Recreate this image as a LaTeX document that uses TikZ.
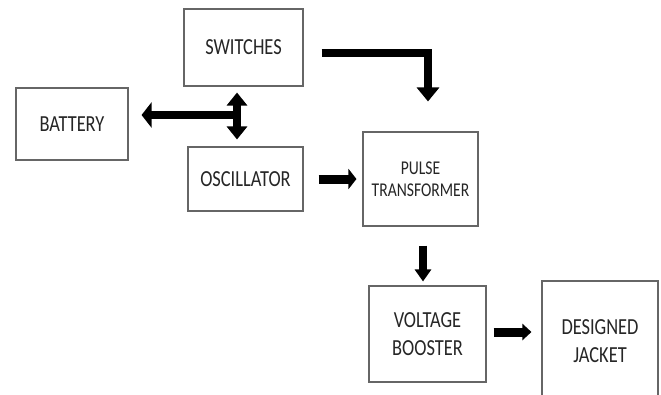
\documentclass[tikz,border=0pt]{standalone}
\usepackage{fontspec}
\setmainfont{Carlito}[FakeStretch=0.8]
\usetikzlibrary{arrows.meta}
\tikzset{
  blk/.style={draw=black!60, line width=1.1pt, inner sep=0pt, align=center, text=black!85},
  fat/.style={line width=8pt, -{Triangle[width=22pt,length=14pt]}},
  fatb/.style={line width=8pt, {Triangle[width=20pt,length=13pt]}-{Triangle[width=20pt,length=13pt]}},
  big/.style={font=\fontsize{23}{28}\selectfont},
  small/.style={font=\fontsize{19.5}{22}\selectfont}
}
\begin{document}
\begin{tikzpicture}[x=1pt,y=-1pt]
\useasboundingbox (0,0) rectangle (661,394);
\clip (0,0) rectangle (661,394);
\fill[white] (0,0) rectangle (661,394);
\node[blk,big,minimum width=119pt,minimum height=77pt] (switches) at (243.5,47.5) {SWITCHES};
\node[blk,big,minimum width=112pt,minimum height=72pt] (battery) at (72,124) {BATTERY};
\node[blk,big,minimum width=115pt,minimum height=64pt] (osc) at (245.5,179) {OSCILLATOR};
\node[blk,small,minimum width=115pt,minimum height=94pt] (pulse) at (420.5,179) {PULSE\\TRANSFORMER};
\node[blk,big,minimum width=117pt,minimum height=96pt] (booster) at (427.5,334) {VOLTAGE\\BOOSTER};
\node[blk,big,minimum width=116pt,minimum height=120pt] (jacket) at (600,341) {DESIGNED\\JACKET};
\coordinate (j) at (237,115);
% switches -> pulse
\draw[fat] (switches.east) ++(18,5.5) -| ([xshift=7.5pt]pulse.north) [shorten >=30pt];
% battery/switches/oscillator
\draw[fatb, shorten <=6pt, shorten >=7pt] (j |- switches.south) -- (j |- osc.north);
\draw[fat, -{Triangle[width=25pt,length=10pt]}, shorten >=13pt] (j) -- (battery.east |- j);
% oscillator -> pulse
\draw[fat, line width=9pt, -{Triangle[width=20pt,length=8pt]}, shorten <=15pt, shorten >=6pt] (osc.east) -- (pulse.west);
% pulse -> booster
\draw[fat, -{Triangle[width=16pt,length=12pt]}, shorten <=19pt, shorten >=4pt] ([xshift=2.5pt]pulse.south) -- ([xshift=-4.5pt]booster.north);
% booster -> jacket
\draw[fat, line width=9pt, -{Triangle[width=16pt,length=9pt]}, shorten <=7pt, shorten >=10pt] (booster.east |- 0,332) -- (jacket.west |- 0,332);
\end{tikzpicture}
\end{document}
